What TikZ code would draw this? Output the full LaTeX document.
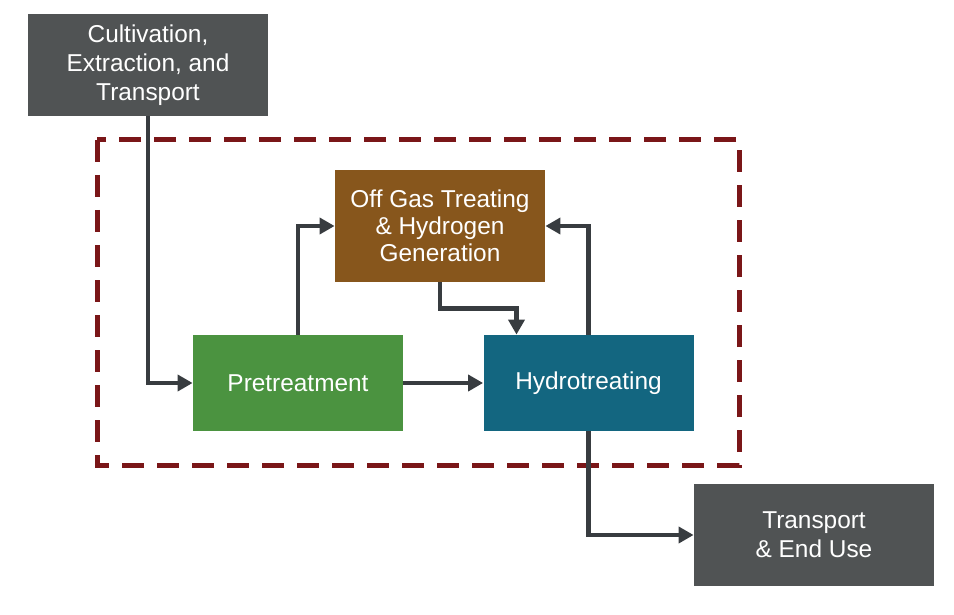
\documentclass[tikz,border=0pt]{standalone}
\usepackage{fontspec}
\setmainfont{Liberation Sans}
\usetikzlibrary{arrows.meta,positioning}
\definecolor{stagegray}{HTML}{505354}
\definecolor{boundred}{HTML}{7A1618}
\definecolor{gasbrown}{HTML}{87561C}
\definecolor{pregreen}{HTML}{4B9340}
\definecolor{hydroteal}{HTML}{136680}
\definecolor{flowgray}{HTML}{383C40}
\tikzset{
    stage/.style={rectangle,fill=#1,text=white,align=center,inner sep=0pt,
        font=\fontsize{12.2}{13.5}\selectfont},
    wide/.style={minimum width=120pt,minimum height=51pt,
        font=\fontsize{12.2}{14.5}\selectfont},
    unit/.style={minimum width=105pt,minimum height=48pt},
    flow/.style={-{Triangle[length=7.5pt,width=8pt]},line width=2.2pt,draw=flowgray},
    bound/.style={draw=boundred,line width=2.5pt,dash pattern=on 11pt off 6.5pt}
}

\begin{document}
\begin{tikzpicture}[x=0.5pt,y=-0.5pt]
    \useasboundingbox (0,0) rectangle (954,615);

    \draw[bound] (97,140) rectangle (739,465);

    \node[stage=stagegray,wide] (cultivation) at (148,65) {Cultivation,\\Extraction, and\\Transport};
    \node[stage=gasbrown,minimum width=105pt,minimum height=56pt] (offgas) at (440,226) {Off Gas Treating\\\& Hydrogen\\Generation};
    \node[stage=pregreen,unit] (pretreat) at (298,383) {Pretreatment};
    \node[stage=hydroteal,unit] (hydro) at (588.5,383) {Hydrotreating};
    \node[stage=stagegray,wide] (enduse) at (814,535) {Transport\\\& End Use};

    \draw[flow] (cultivation.south) |- (pretreat.west);
    \draw[flow] (pretreat.north) |- (offgas.west);
    \draw[flow] (offgas.south) -- ++(0,26) -| ([xshift=-36pt]hydro.north);
    \draw[flow] (hydro.north) |- (offgas.east);
    \draw[flow] (pretreat.east) -- (hydro.west);
    \draw[flow] (hydro.south) |- (enduse.west);
\end{tikzpicture}
\end{document}
